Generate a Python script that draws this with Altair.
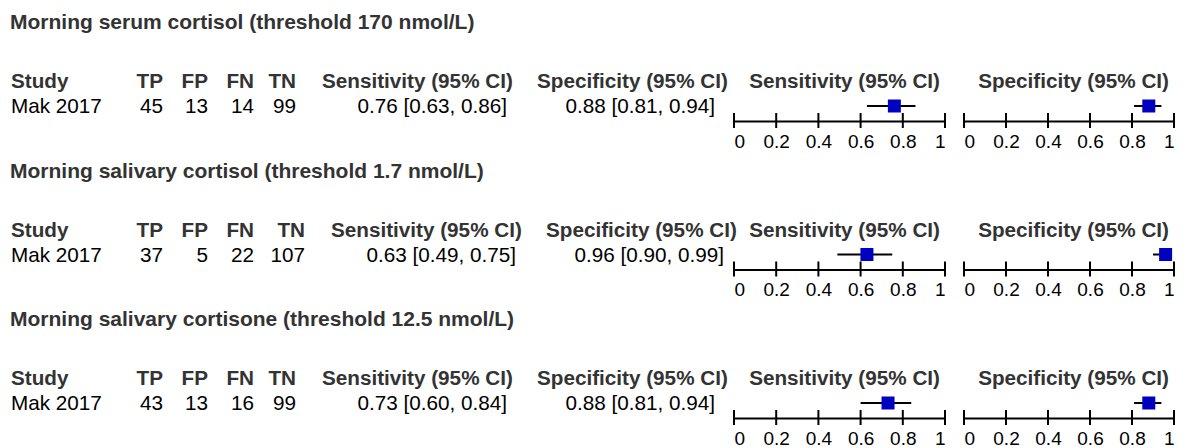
import altair as alt
import pandas as pd

# ---------------- data ----------------
headings = [
    "Morning serum cortisol (threshold 170 nmol/L)",
    "Morning salivary cortisol (threshold 1.7 nmol/L)",
    "Morning salivary cortisone (threshold 12.5 nmol/L)",
]
studies = ["Mak 2017", "Mak 2017", "Mak 2017"]
tp = [45, 37, 43]
fp = [13, 5, 13]
fn = [14, 22, 16]
tn = [99, 107, 99]
sens = [0.76, 0.63, 0.73]
sens_lo = [0.63, 0.49, 0.60]
sens_hi = [0.86, 0.75, 0.84]
spec = [0.88, 0.96, 0.88]
spec_lo = [0.81, 0.90, 0.81]
spec_hi = [0.94, 0.99, 0.94]
tick_values = [0, 0.2, 0.4, 0.6, 0.8, 1]
end_tick_values = [0, 1]
col_headers = ["Study", "TP", "FP", "FN", "TN",
               "Sensitivity (95% CI)", "Specificity (95% CI)"]
plot_headers = ["Sensitivity (95% CI)", "Specificity (95% CI)"]

# ---------------- layout ----------------
FONT = "Liberation Sans"
W = 1173          # plot width of each panel
H = 113           # panel height (axis sits at the bottom)
PITCH = 148.5
HEAD_Y = 21
HDR_Y = 80
ROW_Y = 105
MARK_Y = 98
SENS_RANGE = [726, 937]
SPEC_RANGE = [956, 1166]
TN_SHIFT = [0, 9, 0]   # column widening when TN has three digits
GRAY = "#333333"
BLUE = "#0000C0"
BOLD_SIZE = 20.7
HEAD_SIZE = 21
TEXT_SIZE = 20.7
TICK_SIZE = 19
TICK_LEN = 8


def fmt(e, lo, hi):
    return f"{e:.2f} [{lo:.2f}, {hi:.2f}]"


def panel(i):
    s = TN_SHIFT[i]
    row = pd.DataFrame({
        "heading": [headings[i]],
        "study": [studies[i]],
        "tp": [str(tp[i])], "fp": [str(fp[i])],
        "fn": [str(fn[i])], "tn": [str(tn[i])],
        "sens_txt": [fmt(sens[i], sens_lo[i], sens_hi[i])],
        "spec_txt": [fmt(spec[i], spec_lo[i], spec_hi[i])],
        "sens": [sens[i]], "sens_lo": [sens_lo[i]], "sens_hi": [sens_hi[i]],
        "spec": [spec[i]], "spec_lo": [spec_lo[i]], "spec_hi": [spec_hi[i]],
    })
    base = alt.Chart(row)

    def text(field, x, align, y, bold=False, color="black", size=TEXT_SIZE):
        return base.mark_text(
            align=align, baseline="alphabetic", font=FONT, fontSize=size,
            fontWeight="bold" if bold else "normal", color=color,
        ).encode(x=alt.value(x), y=alt.value(y), text=alt.Text(field))

    def label(t, x, align, y, bold=True, color=GRAY, size=BOLD_SIZE):
        return base.mark_text(
            text=t, align=align, baseline="alphabetic", font=FONT, fontSize=size,
            fontWeight="bold" if bold else "normal", color=color,
        ).encode(x=alt.value(x), y=alt.value(y))

    layers = [
        text("heading:N", 2, "left", HEAD_Y, bold=True, color=GRAY, size=HEAD_SIZE),
        label(col_headers[0], 3, "left", HDR_Y),
        label(col_headers[1], 155, "right", HDR_Y),
        label(col_headers[2], 200, "right", HDR_Y),
        label(col_headers[3], 246, "right", HDR_Y),
        label(col_headers[4], 288 + s, "right", HDR_Y),
        label(col_headers[5], 314 + s, "left", HDR_Y),
        label(col_headers[6], 529 + s, "left", HDR_Y),
        label(plot_headers[0], SENS_RANGE[1] - 5, "right", HDR_Y),
        label(plot_headers[1], SPEC_RANGE[1] - 5, "right", HDR_Y),
        text("study:N", 3, "left", ROW_Y),
        text("tp:N", 155, "right", ROW_Y),
        text("fp:N", 200, "right", ROW_Y),
        text("fn:N", 246, "right", ROW_Y),
        text("tn:N", 288 + s, "right", ROW_Y),
        text("sens_txt:N", 499 + s, "right", ROW_Y),
        text("spec_txt:N", 707 + s, "right", ROW_Y),
    ]
    table = alt.layer(*layers)

    yenc = alt.Y("study:N", axis=None,
                 scale=alt.Scale(type="point", range=[MARK_Y - 1, MARK_Y + 1]))

    def scale(rng):
        return alt.Scale(domain=[0, 1], range=rng, nice=False, zero=False)

    def forest(est, lo, hi, rng):
        sc = scale(rng)
        ax = alt.Axis(
            orient="bottom", values=tick_values, format="~g", title=None,
            ticks=False, tickSize=0, grid=False, domain=True,
            domainColor="black", domainWidth=2, labelFont=FONT,
            labelFontSize=TICK_SIZE, labelColor="black", labelPadding=11,
            labelOverlap=False, labelFlush=True,
        )
        ci = base.mark_rule(color="black", strokeWidth=2).encode(
            x=alt.X(f"{lo}:Q", scale=sc, axis=ax), x2=f"{hi}:Q", y=yenc,
        )
        sq = base.mark_square(size=169, color=BLUE, opacity=1, filled=True).encode(
            x=alt.X(f"{est}:Q", scale=sc), y=yenc,
        )
        all_ticks = alt.Chart(
            alt.Data(values=[{"alltick": t} for t in tick_values])
        ).mark_rule(color="black", strokeWidth=2).encode(
            x=alt.X("alltick:Q", scale=sc),
            y=alt.value(H - TICK_LEN), y2=alt.value(H + 7),
        )
        return alt.layer(ci, sq, all_ticks)

    sens_plot = forest("sens", "sens_lo", "sens_hi", SENS_RANGE)
    spec_plot = forest("spec", "spec_lo", "spec_hi", SPEC_RANGE)

    return alt.layer(table, sens_plot, spec_plot).resolve_scale(
        x="independent"
    ).resolve_axis(x="independent").properties(width=W, height=H)


chart = alt.vconcat(panel(0), panel(1), panel(2), spacing=PITCH - H).properties(
    padding=0, bounds="flush"
).configure_view(stroke=None)

chart.save("out.html", embed_options={"renderer": "svg", "actions": False})
